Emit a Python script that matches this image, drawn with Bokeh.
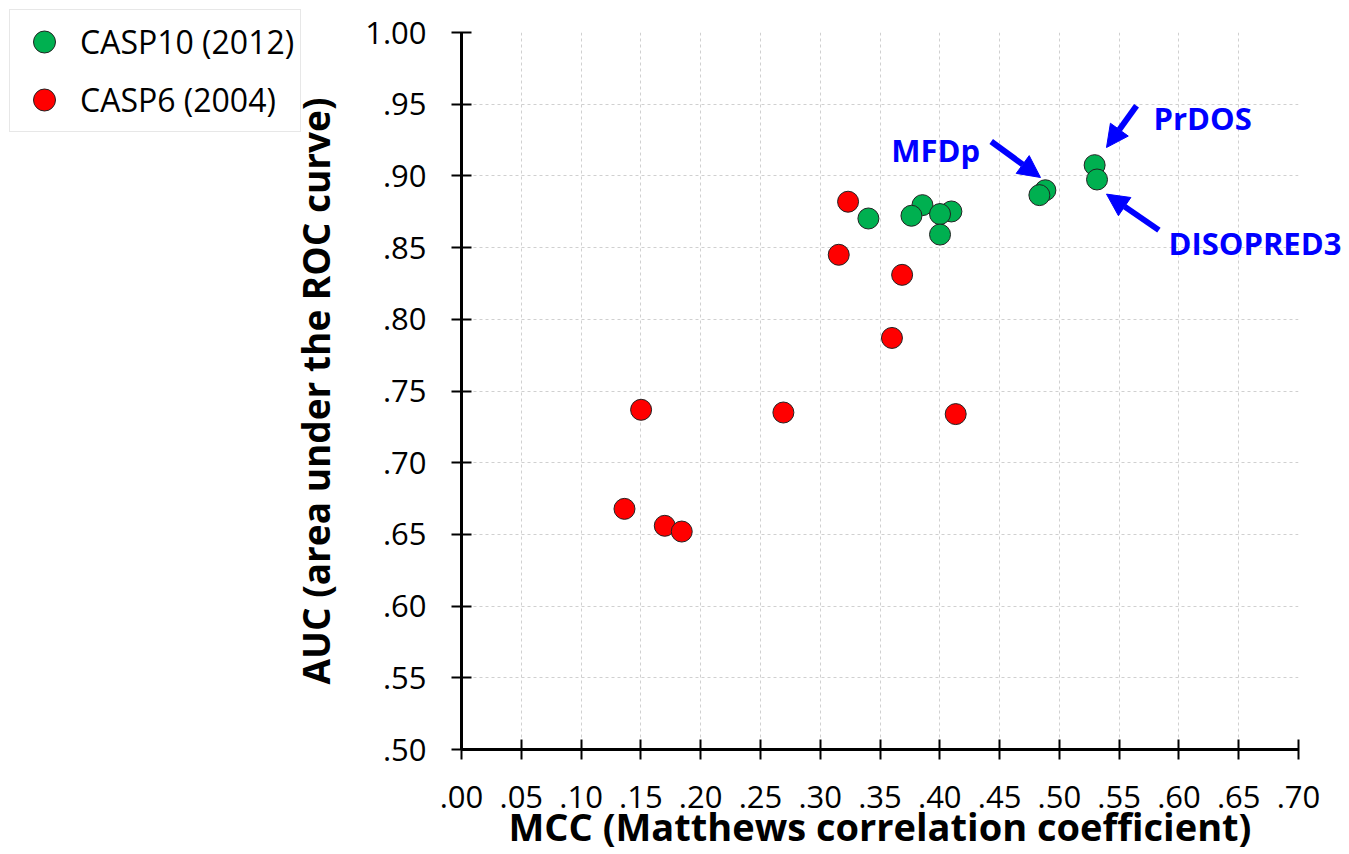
from bokeh.plotting import figure
from bokeh.layouts import column
from bokeh.models import (Range1d, FixedTicker, Legend, LegendItem, Label, Arrow,
                          NormalHead, ColumnDataSource, Column)
from bokeh.embed import file_html
from bokeh.resources import INLINE

# ---- data ----
casp10_mcc = [0.4097, 0.3855, 0.3763, 0.3403, 0.4002, 0.4002, 0.4883, 0.4833, 0.5295, 0.5315]
casp10_auc = [0.8752, 0.8796, 0.8722, 0.8703, 0.8734, 0.8591, 0.8900, 0.8866, 0.9075, 0.8975]
casp6_mcc = [0.1363, 0.1502, 0.1700, 0.1842, 0.2692, 0.3155, 0.3233, 0.3600, 0.3685, 0.4133]
casp6_auc = [0.6678, 0.7369, 0.6560, 0.6520, 0.7350, 0.8450, 0.8820, 0.7870, 0.8310, 0.7339]

x_ticks = [0.00, 0.05, 0.10, 0.15, 0.20, 0.25, 0.30, 0.35, 0.40, 0.45, 0.50, 0.55, 0.60, 0.65, 0.70]
x_tick_labels = [".00", ".05", ".10", ".15", ".20", ".25", ".30", ".35", ".40", ".45", ".50",
                 ".55", ".60", ".65", ".70"]
y_ticks = [0.50, 0.55, 0.60, 0.65, 0.70, 0.75, 0.80, 0.85, 0.90, 0.95, 1.00]
y_tick_labels = [".50", ".55", ".60", ".65", ".70", ".75", ".80", ".85", ".90", ".95", "1.00"]

series_names = ["CASP10 (2012)", "CASP6 (2004)"]
series_colors = ["#00B050", "#FF0000"]

ann_names = ["MFDp", "PrDOS", "DISOPRED3"]
ann_text_x = [0.3593, 0.5786, 0.5911]
ann_text_y = [0.918, 0.9405, 0.8533]
arrow_x_start = [0.4429, 0.5644, 0.5831]
arrow_y_start = [0.924, 0.9489, 0.8622]
arrow_x_end = [0.4841, 0.5393, 0.5393]
arrow_y_end = [0.8989, 0.9198, 0.8873]

FONT = "Open Sans"

PX_PER_X = 1196.0     # pixels per unit of MCC
PX_PER_Y = 1434.0     # pixels per unit of AUC
FL, FT = 461, 32
FW = int(round((x_ticks[-1] - x_ticks[0]) * PX_PER_X))
FH = int(round((y_ticks[-1] - y_ticks[0]) * PX_PER_Y))
W = 1347
H = 854

p = figure(width=W, height=H, output_backend="svg", toolbar_location=None,
           x_range=Range1d(x_ticks[0], x_ticks[-1]), y_range=Range1d(y_ticks[0], y_ticks[-1]),
           min_border_left=FL, min_border_top=FT,
           min_border_right=W - FL - FW, min_border_bottom=H - FT - FH)
p.outline_line_color = None
p.background_fill_color = None
p.border_fill_color = None

GRID_COLOR = "#d0d0d0"
GRID_DASH = "3 3"
for g in (p.xgrid, p.ygrid):
    g.grid_line_color = GRID_COLOR
    g.grid_line_dash = GRID_DASH
    g.grid_line_width = 1

p.xaxis.ticker = FixedTicker(ticks=x_ticks)
p.yaxis.ticker = FixedTicker(ticks=y_ticks)
p.xaxis.major_label_overrides = {t: l for t, l in zip(x_ticks, x_tick_labels)}
p.yaxis.major_label_overrides = {t: l for t, l in zip(y_ticks, y_tick_labels)}

for ax in (p.xaxis, p.yaxis):
    ax.axis_line_color = "black"
    ax.axis_line_width = 3
    ax.major_tick_line_color = "black"
    ax.major_tick_line_width = 2
    ax.major_tick_in = 10
    ax.major_tick_out = 10
    ax.minor_tick_line_color = None
    ax.major_label_text_font = FONT
    ax.major_label_text_font_size = "31px"
    ax.major_label_text_color = "black"
    ax.axis_label_text_font = FONT
    ax.axis_label_text_font_style = "bold"
    ax.axis_label_text_font_size = "37px"
    ax.axis_label_text_color = "black"

p.xaxis.axis_label = "MCC (Matthews correlation coefficient)"
p.yaxis.axis_label = "AUC (area under the ROC curve)"
p.xaxis.axis_label_text_font_size = "38px"
p.xaxis.major_label_standoff = 26
p.yaxis.major_label_standoff = 25
p.xaxis.axis_label_standoff = -11
p.yaxis.axis_label_standoff = 21

src10 = ColumnDataSource(dict(x=casp10_mcc, y=casp10_auc))
src6 = ColumnDataSource(dict(x=casp6_mcc, y=casp6_auc))
sources = [src10, src6]

for src, color in zip(sources, series_colors):
    p.scatter("x", "y", source=src, size=21, marker="circle",
              fill_color=color, line_color="#222222", line_width=1)

# ---- transparent overlay of the same size; its frame is the whole canvas and its
#      ranges are set so that its data scale coincides with the main plot ----
ov = figure(width=W, height=H, output_backend="svg", toolbar_location=None, title=None,
            x_axis_type=None, y_axis_type=None,
            x_range=Range1d(x_ticks[0] - FL / PX_PER_X, x_ticks[0] + (W - FL) / PX_PER_X),
            y_range=Range1d(y_ticks[-1] - (H - FT) / PX_PER_Y, y_ticks[-1] + FT / PX_PER_Y),
            min_border_left=0, min_border_right=0, min_border_top=0, min_border_bottom=0)
ov.outline_line_color = None
ov.background_fill_color = None
ov.border_fill_color = None
ov.xgrid.visible = False
ov.ygrid.visible = False

for i in range(len(ann_names)):
    ov.add_layout(Arrow(end=NormalHead(size=22, fill_color="#0000FF", line_color="#0000FF"),
                        x_start=arrow_x_start[i], y_start=arrow_y_start[i],
                        x_end=arrow_x_end[i], y_end=arrow_y_end[i],
                        line_color="#0000FF", line_width=6))
    ov.add_layout(Label(x=ann_text_x[i], y=ann_text_y[i], text=ann_names[i],
                        text_font=FONT, text_font_style="bold", text_font_size="31px",
                        text_color="#0000FF", text_align="left", text_baseline="alphabetic"))

items = []
for name, src, color in zip(series_names, sources, series_colors):
    r = ov.scatter("x", "y", source=src, marker="circle",
                   fill_color=color, line_color="#222222", line_width=1)
    r.visible = False   # only used for the legend swatch; points are drawn in p
    items.append(LegendItem(label=name, renderers=[r]))
legend = Legend(items=items, location="top_left")
legend.label_text_font = FONT
legend.label_text_font_size = "32px"
legend.label_text_color = "black"
legend.glyph_width = 60
legend.glyph_height = 55
legend.label_height = 40
legend.label_width = 216
legend.spacing = 3
legend.padding = 4
legend.margin = 9
legend.label_standoff = 6
legend.border_line_color = "#d0d0d0"
legend.border_line_width = 1
legend.background_fill_color = "white"
legend.background_fill_alpha = 1.0
ov.add_layout(legend, "center")

# wrapping the overlay keeps it out of the frame alignment of the outer column
wrapper = Column(children=[ov], spacing=0)
wrapper.margin = (-H, 0, 0, 0)
layout = column(p, wrapper, spacing=0)

open("out.html", "w").write(file_html(layout, INLINE))
